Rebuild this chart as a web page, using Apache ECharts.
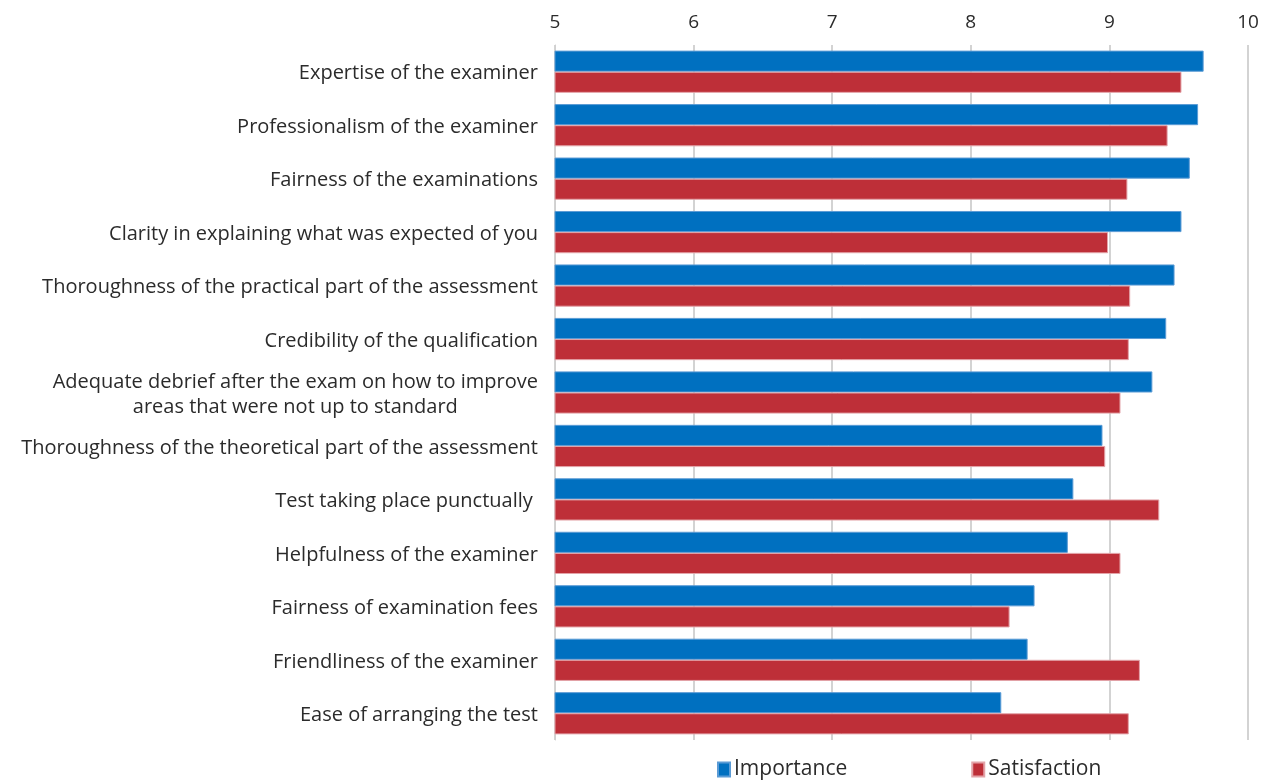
<!DOCTYPE html>
<html>
<head>
<meta charset="utf-8">
<script src="https://cdn.jsdelivr.net/npm/echarts@6/dist/echarts.min.js"></script>
<style>
  html, body { margin: 0; padding: 0; background: #fff; }
  #chart { width: 1273px; height: 780px; }
</style>
</head>
<body>
<div id="chart"></div>
<script>
// Survey items, top to bottom
const categories = [
  'Expertise of the examiner',
  'Professionalism of the examiner',
  'Fairness of the examinations',
  'Clarity in explaining what was expected of you',
  'Thoroughness of the practical part of the assessment',
  'Credibility of the qualification',
  'Adequate debrief after the exam on how to improve\nareas that were not up to standard',
  'Thoroughness of the theoretical part of the assessment',
  'Test taking place punctually ',
  'Helpfulness of the examiner',
  'Fairness of examination fees',
  'Friendliness of the examiner',
  'Ease of arranging the test'
];

// Mean scores (scale up to 10)
const importance = [9.68, 9.64, 9.58, 9.52, 9.47, 9.41, 9.31, 8.95, 8.74, 8.70, 8.46, 8.41, 8.22];
const satisfaction = [9.52, 9.42, 9.13, 8.99, 9.15, 9.14, 9.08, 8.97, 9.36, 9.08, 8.28, 9.22, 9.14];

const axisTicks = [5, 6, 7, 8, 9, 10];

const FONT = 'Open Sans';
const TEXT = '#2b2b2b';

const chart = echarts.init(document.getElementById('chart'), null, { renderer: 'canvas' });

chart.setOption({
  animation: false,
  backgroundColor: '#ffffff',
  textStyle: { fontFamily: FONT, color: TEXT },
  grid: { left: 555, right: 25, top: 45, bottom: 40, containLabel: false },
  legend: {
    bottom: -5,
    left: 712,
    itemGap: 124,
    itemWidth: 12,
    itemHeight: 14,
    icon: 'rect',
    textStyle: { fontFamily: FONT, fontSize: 21, color: TEXT, padding: [0, 0, 0, -1] },
    data: ['Importance', 'Satisfaction']
  },
  xAxis: {
    type: 'value',
    position: 'top',
    min: axisTicks[0],
    max: axisTicks[axisTicks.length - 1],
    interval: 1,
    axisLine: { show: false },
    axisTick: { show: false },
    axisLabel: { fontFamily: FONT, fontSize: 19, color: TEXT, margin: 13 },
    splitLine: { show: true, lineStyle: { color: '#c4c4c4', width: 1.5 } }
  },
  yAxis: {
    type: 'category',
    inverse: true,
    data: categories,
    axisLine: { show: true, lineStyle: { color: '#d0d0d0' } },
    axisTick: { show: false },
    axisLabel: {
      margin: 17,
      fontFamily: FONT,
      fontSize: 20,
      color: TEXT,
      lineHeight: 25,
      padding: [4, 0, 0, 0],
      formatter: function (v) {
        if (v.indexOf('\n') >= 0) {
          return v.split('\n').map(function (s) { return '{c|' + s + '}'; }).join('\n');
        }
        return v;
      },
      rich: {
        c: { align: 'center', fontFamily: FONT, fontSize: 20, color: TEXT, lineHeight: 25 }
      }
    }
  },
  series: [
    {
      name: 'Importance',
      type: 'bar',
      data: importance,
      barGap: '0%',
      barCategoryGap: '21%',
      itemStyle: { color: '#0070c0', borderColor: '#5b9bd5', borderWidth: 1 }
    },
    {
      name: 'Satisfaction',
      type: 'bar',
      data: satisfaction,
      barGap: '0%',
      barCategoryGap: '21%',
      itemStyle: { color: '#be2f38', borderColor: '#e3a3a8', borderWidth: 1 }
    }
  ]
});
</script>
</body>
</html>
